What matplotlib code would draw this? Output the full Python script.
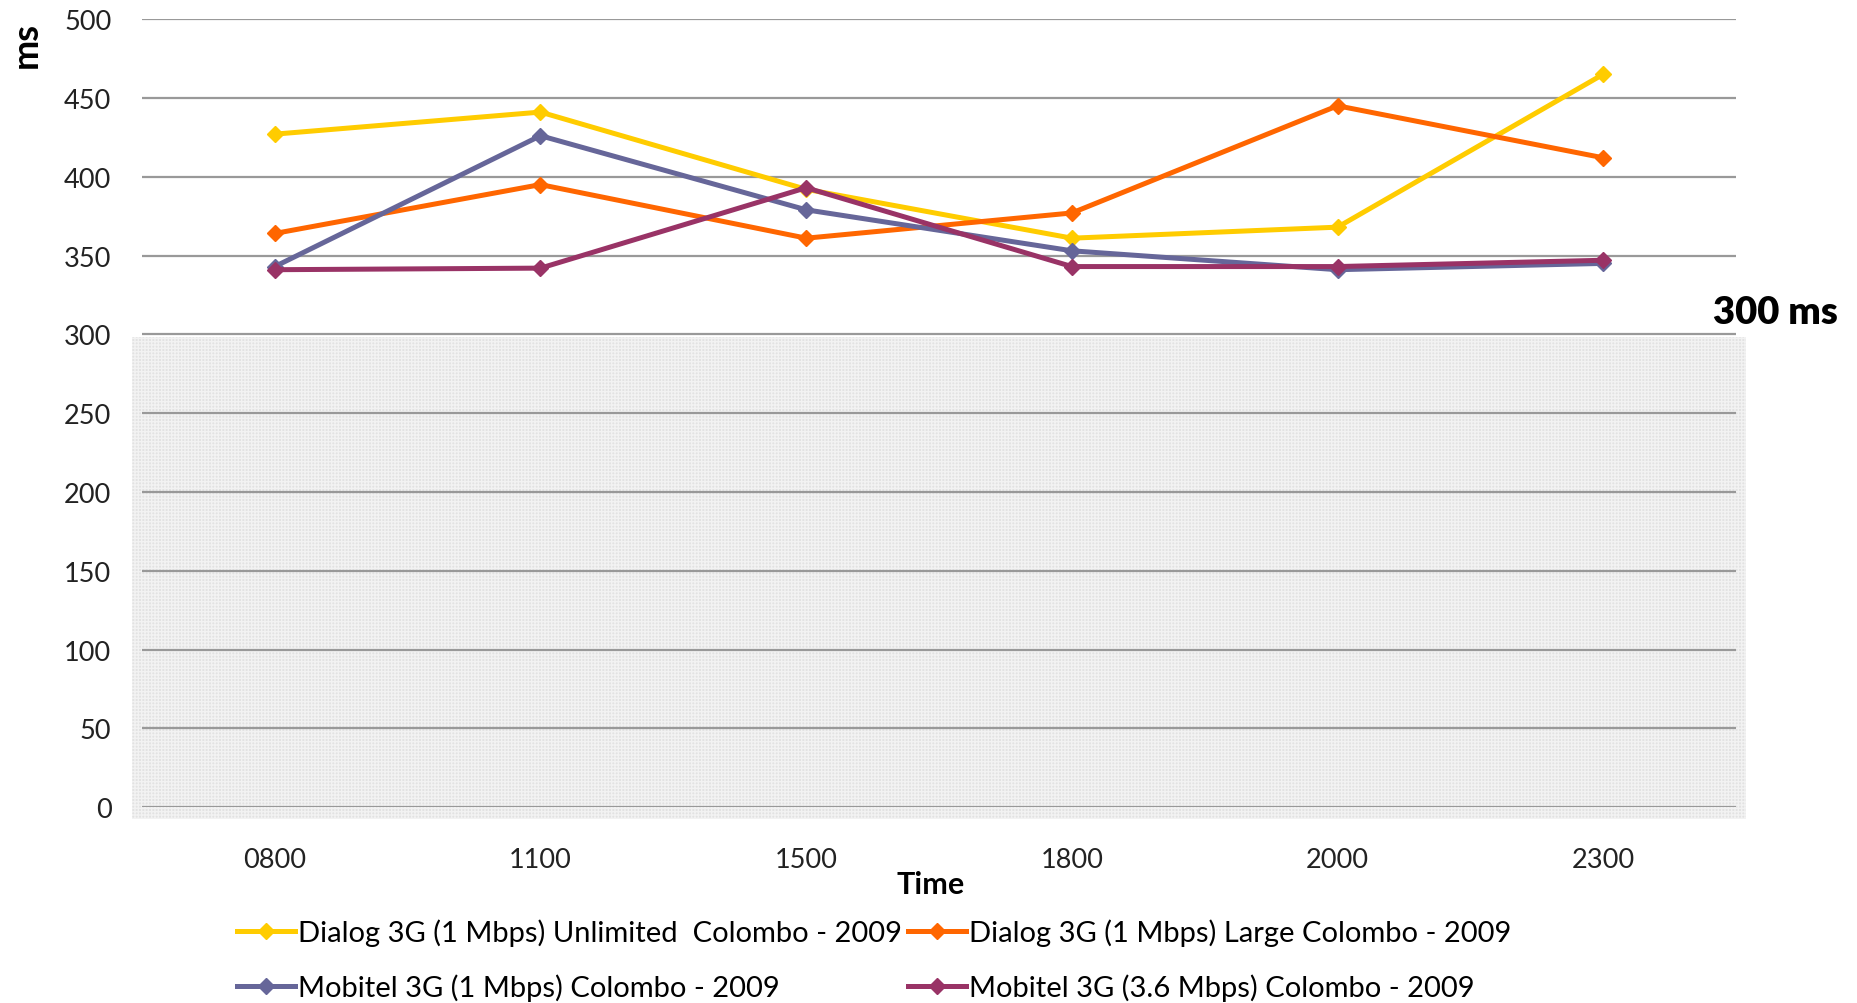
import matplotlib.pyplot as plt
from matplotlib.patches import Rectangle

plt.rcParams['font.family'] = ['Lato', 'DejaVu Sans']
plt.rcParams['hatch.linewidth'] = 1.0

horas = ["0800", "1100", "1500", "1800", "2000", "2300"]
dialog_unlim = [427, 441, 392, 361, 368, 465]
dialog_large = [364, 395, 361, 377, 445, 412]
mobitel_1 = [343, 426, 379, 353, 341, 345]
mobitel_36 = [341, 342, 393, 343, 343, 347]
nombres = ["Dialog 3G (1 Mbps) Unlimited  Colombo - 2009",
           "Dialog 3G (1 Mbps) Large Colombo - 2009",
           "Mobitel 3G (1 Mbps) Colombo - 2009",
           "Mobitel 3G (3.6 Mbps) Colombo - 2009"]
colores = ["#FFCC00", "#FF6600", "#666699", "#993366"]
yticks = [0, 50, 100, 150, 200, 250, 300, 350, 400, 450, 500]

fig = plt.figure(figsize=(18.58, 10.04), dpi=100)
ax = fig.add_axes([0.0764, 0.195, 0.858, 0.785])

x = list(range(len(horas)))
lineas = []
for serie, color, nombre in zip([dialog_unlim, dialog_large, mobitel_1, mobitel_36], colores, nombres):
    l, = ax.plot(x, serie, color=color, linewidth=3.6, marker='D', markersize=8,
                 label=nombre, zorder=3)
    lineas.append(l)

# zona sombreada bajo 300 ms
zona = Rectangle((-0.536, -7.5), 6.072, 306, facecolor='#e2e2e2', edgecolor='#f2f2f2',
                 hatch='+++++', linewidth=0, clip_on=False, zorder=0.1)
ax.add_patch(zona)

ax.set_xlim(-0.5, 5.5)
ax.set_ylim(0, 500)
ax.set_xticks(x)
ax.set_xticklabels(horas)
ax.set_yticks(yticks)
ax.set_axisbelow(True)
ax.yaxis.grid(True, color='#999999', linewidth=1.6)
for s in ax.spines.values():
    s.set_visible(False)
ax.tick_params(axis='both', length=0, labelsize=19.5, colors='#222222')
ax.tick_params(axis='x', pad=29)
ax.tick_params(axis='y', pad=22)

fig.text(0.014, 0.955, "ms", rotation=90, fontsize=26, fontweight='bold',
         ha='center', va='center')
fig.text(0.922, 0.688, "300 ms", fontsize=27.5, fontweight='heavy', ha='left', va='center')
fig.text(0.501, 0.119, "Time", fontsize=22, fontweight='bold', ha='center', va='center')

orden = [lineas[0], lineas[2], lineas[1], lineas[3]]
fig.legend(orden, [l.get_label() for l in orden], ncol=2, loc='upper left',
           bbox_to_anchor=(0.1276, 0.084), frameon=False, fontsize=21,
           handlelength=2.0, handletextpad=0.1, columnspacing=0.2,
           labelspacing=0.93, borderaxespad=0, borderpad=0)

fig.savefig("out.png", dpi=100)
